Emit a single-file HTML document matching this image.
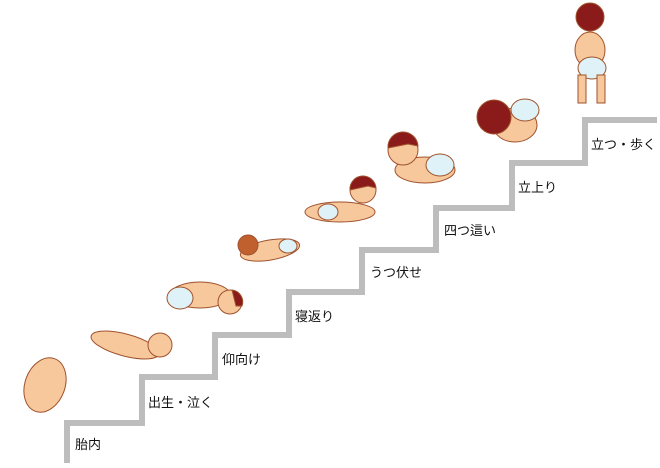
<!DOCTYPE html>
<html><head><meta charset="utf-8"><style>
html,body{margin:0;padding:0;background:#fff}
body{width:660px;height:468px;position:relative;overflow:hidden;font-family:"Liberation Sans","Noto Sans CJK JP",sans-serif}
.l{position:absolute;font-size:13px;color:#111;white-space:nowrap}
</style></head><body>
<svg width="660" height="468" style="position:absolute;left:0;top:0">
<polyline fill="none" stroke="#bdbdbd" stroke-width="6" points="67,463 67,423 142,423 142,377 215,377 215,335 289,335 289,292 362,292 362,250 436,250 436,208 512,208 512,163 585,163 585,120 657,120"/>
<g stroke="#a0522d" stroke-width="1">
<!-- fetus -->
<ellipse cx="45" cy="385" rx="20" ry="28" fill="#f7c89b" transform="rotate(20 45 385)"/>
<!-- newborn -->
<ellipse cx="125" cy="345" rx="35" ry="11" fill="#f7c89b" transform="rotate(15 125 345)"/>
<circle cx="160" cy="345" r="12" fill="#f7c89b"/>
<!-- on back -->
<ellipse cx="200" cy="295" rx="30" ry="13" fill="#f7c89b"/>
<ellipse cx="180" cy="298" rx="13" ry="11" fill="#dff2f8"/>
<circle cx="230" cy="302" r="12" fill="#f7c89b"/>
<path d="M232 290 a12 12 0 0 1 10 16 l-6 0z" fill="#8b1a1a"/>
<!-- rolling -->
<ellipse cx="270" cy="250" rx="30" ry="10" fill="#f7c89b" transform="rotate(-10 270 250)"/>
<circle cx="248" cy="245" r="10" fill="#c0602f"/>
<ellipse cx="288" cy="246" rx="9" ry="7" fill="#dff2f8"/>
<!-- prone -->
<ellipse cx="340" cy="212" rx="35" ry="10" fill="#f7c89b"/>
<ellipse cx="328" cy="212" rx="10" ry="8" fill="#dff2f8"/>
<circle cx="363" cy="190" r="13" fill="#f7c89b"/>
<path d="M350 190 a13 13 0 0 1 26 -2 l-8 -2z" fill="#8b1a1a"/>
<!-- crawling -->
<ellipse cx="425" cy="170" rx="30" ry="13" fill="#f7c89b"/>
<ellipse cx="440" cy="165" rx="14" ry="11" fill="#dff2f8"/>
<circle cx="403" cy="150" r="15" fill="#f7c89b"/>
<path d="M388 148 a15 15 0 0 1 30 -2 l-10 -2z" fill="#8b1a1a"/>
<!-- standing up -->
<ellipse cx="515" cy="125" rx="22" ry="17" fill="#f7c89b"/>
<ellipse cx="525" cy="110" rx="14" ry="11" fill="#dff2f8"/>
<circle cx="494" cy="117" r="17" fill="#8b1a1a"/>
<!-- walking -->
<ellipse cx="590" cy="50" rx="15" ry="18" fill="#f7c89b"/>
<ellipse cx="592" cy="68" rx="14" ry="11" fill="#dff2f8"/>
<rect x="578" y="75" width="8" height="28" fill="#f7c89b"/>
<rect x="597" y="75" width="8" height="28" fill="#f7c89b"/>
<circle cx="590" cy="17" r="14" fill="#8b1a1a"/>
</g>
</svg>
<div class="l" style="left:75px;top:434px">胎内</div>
<div class="l" style="left:148px;top:392px">出生・泣く</div>
<div class="l" style="left:222px;top:349px">仰向け</div>
<div class="l" style="left:295px;top:306px">寝返り</div>
<div class="l" style="left:370px;top:262px">うつ伏せ</div>
<div class="l" style="left:444px;top:220px">四つ這い</div>
<div class="l" style="left:518px;top:177px">立上り</div>
<div class="l" style="left:591px;top:134px">立つ・歩く</div>
</body></html>
